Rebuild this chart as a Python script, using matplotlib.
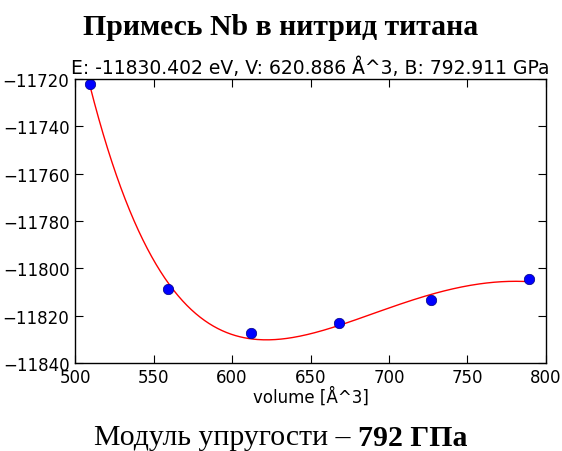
import numpy as np
import matplotlib.pyplot as plt

volumes = [509.5, 559.0, 611.9, 667.9, 726.8, 789.4]
energies = [-11722.1, -11808.6, -11827.3, -11823.3, -11813.6, -11804.7]

title = 'Примесь Nb в нитрид титана'
subtitle = 'E: -11830.402 eV, V: 620.886 Å^3, B: 792.911 GPa'
xlabel = 'volume [Å^3]'
x_ticks = [500, 550, 600, 650, 700, 750, 800]
y_ticks = [-11840, -11820, -11800, -11780, -11760, -11740, -11720]

# cubic fit in V^(-1/3), like the EOS fit
t = np.array(volumes) ** (-1.0 / 3.0)
coef = np.polyfit(t, energies, 3)
v_fit = np.linspace(min(volumes), max(volumes), 300)
e_fit = np.polyval(coef, v_fit ** (-1.0 / 3.0))

fig = plt.figure(figsize=(5.62, 4.52), dpi=100)
ax = fig.add_axes([0.1335, 0.195, 0.838, 0.628])
ax.plot(v_fit, e_fit, 'r-', lw=1)
ax.plot(volumes, energies, 'o', color='#0000ff', ms=7.5, mec='#000080', mew=0.5)
ax.set_xlim(500, 800)
ax.set_ylim(-11840, -11720)
ax.set_xticks(x_ticks)
ax.set_yticks(y_ticks)
ax.tick_params(direction='in', top=True, right=True, length=6, labelsize=12, pad=4)
for s in ax.spines.values():
    s.set_linewidth(1)
ax.set_xlabel(xlabel, fontsize=12, labelpad=0)
ax.set_title(subtitle, fontsize=13.5, pad=4)

fig.text(0.5, 0.94, title, ha='center', va='center', family='Liberation Serif',
         fontweight='bold', fontsize=21.4)
fig.text(0.637, 0.03, 'Модуль упругости – ', ha='right', va='center',
         family='Liberation Serif', fontsize=21.4)
fig.text(0.637, 0.03, '792 ГПа', ha='left', va='center',
         family='Liberation Serif', fontweight='bold', fontsize=21.4)

fig.savefig('out.png', dpi=100)
